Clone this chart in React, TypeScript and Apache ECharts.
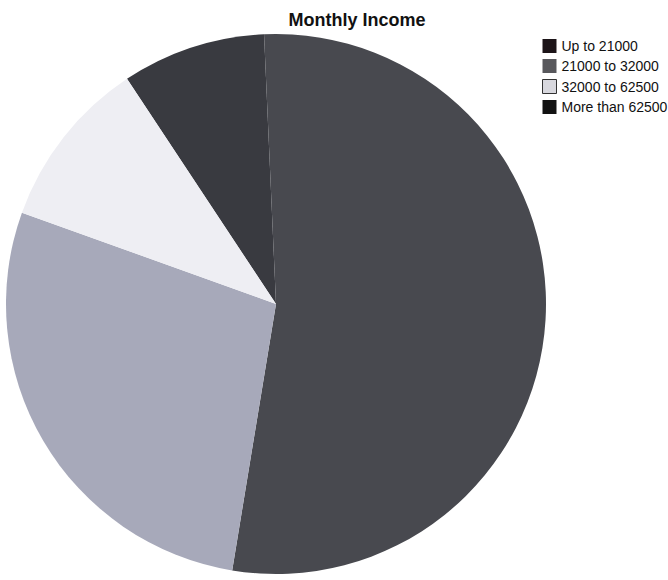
import React, { useEffect, useRef } from "react";
import * as echarts from "echarts";

// Monthly income brackets and their shares (%)
const categories = ["Up to 21000", "21000 to 32000", "32000 to 62500", "More than 62500"];
const shares = [8.6, 53.3, 27.9, 10.2];
const sliceColors = ["#393a40", "#48494f", "#a7a9ba", "#eeeef3"];
const legendColors = ["#1c1418", "#58585c", "#d8d8de", "#121212"];

export default function App() {
  const ref = useRef<HTMLDivElement>(null);

  useEffect(() => {
    if (!ref.current) return;
    const chart = echarts.init(ref.current, undefined, { renderer: "svg" });
    chart.setOption({
      animation: false,
      backgroundColor: "#ffffff",
      title: {
        text: "Monthly Income",
        left: 352,
        top: 6,
        textAlign: "center",
        textStyle: {
          fontFamily: "Liberation Sans, Arial, sans-serif",
          fontSize: 18,
          fontWeight: "bold",
          color: "#111111",
        },
      },
      legend: {
        orient: "vertical",
        left: 537,
        top: 34,
        itemWidth: 14,
        itemHeight: 14,
        itemGap: 6,
        icon: "rect",
        selectedMode: false,
        textStyle: {
          fontFamily: "Liberation Sans, Arial, sans-serif",
          fontSize: 14,
          color: "#111111",
          padding: [0, 0, 0, 0],
        },
        data: categories.map((name, i) => ({
          name,
          itemStyle: {
            color: legendColors[i],
            borderColor: "#333333",
            borderWidth: i === 2 ? 1 : 0,
          },
        })),
      },
      series: [
        {
          type: "pie",
          center: [276, 304],
          radius: 270,
          startAngle: 123.5,
          clockwise: true,
          label: { show: false },
          labelLine: { show: false },
          emphasis: { disabled: true },
          itemStyle: { borderWidth: 0 },
          data: categories.map((name, i) => ({
            name,
            value: shares[i],
            itemStyle: { color: sliceColors[i] },
          })),
        },
      ],
    });
    return () => chart.dispose();
  }, []);

  return (
    <div
      ref={ref}
      style={{ position: "fixed", left: 0, top: 0, width: 668, height: 580 }}
    />
  );
}
